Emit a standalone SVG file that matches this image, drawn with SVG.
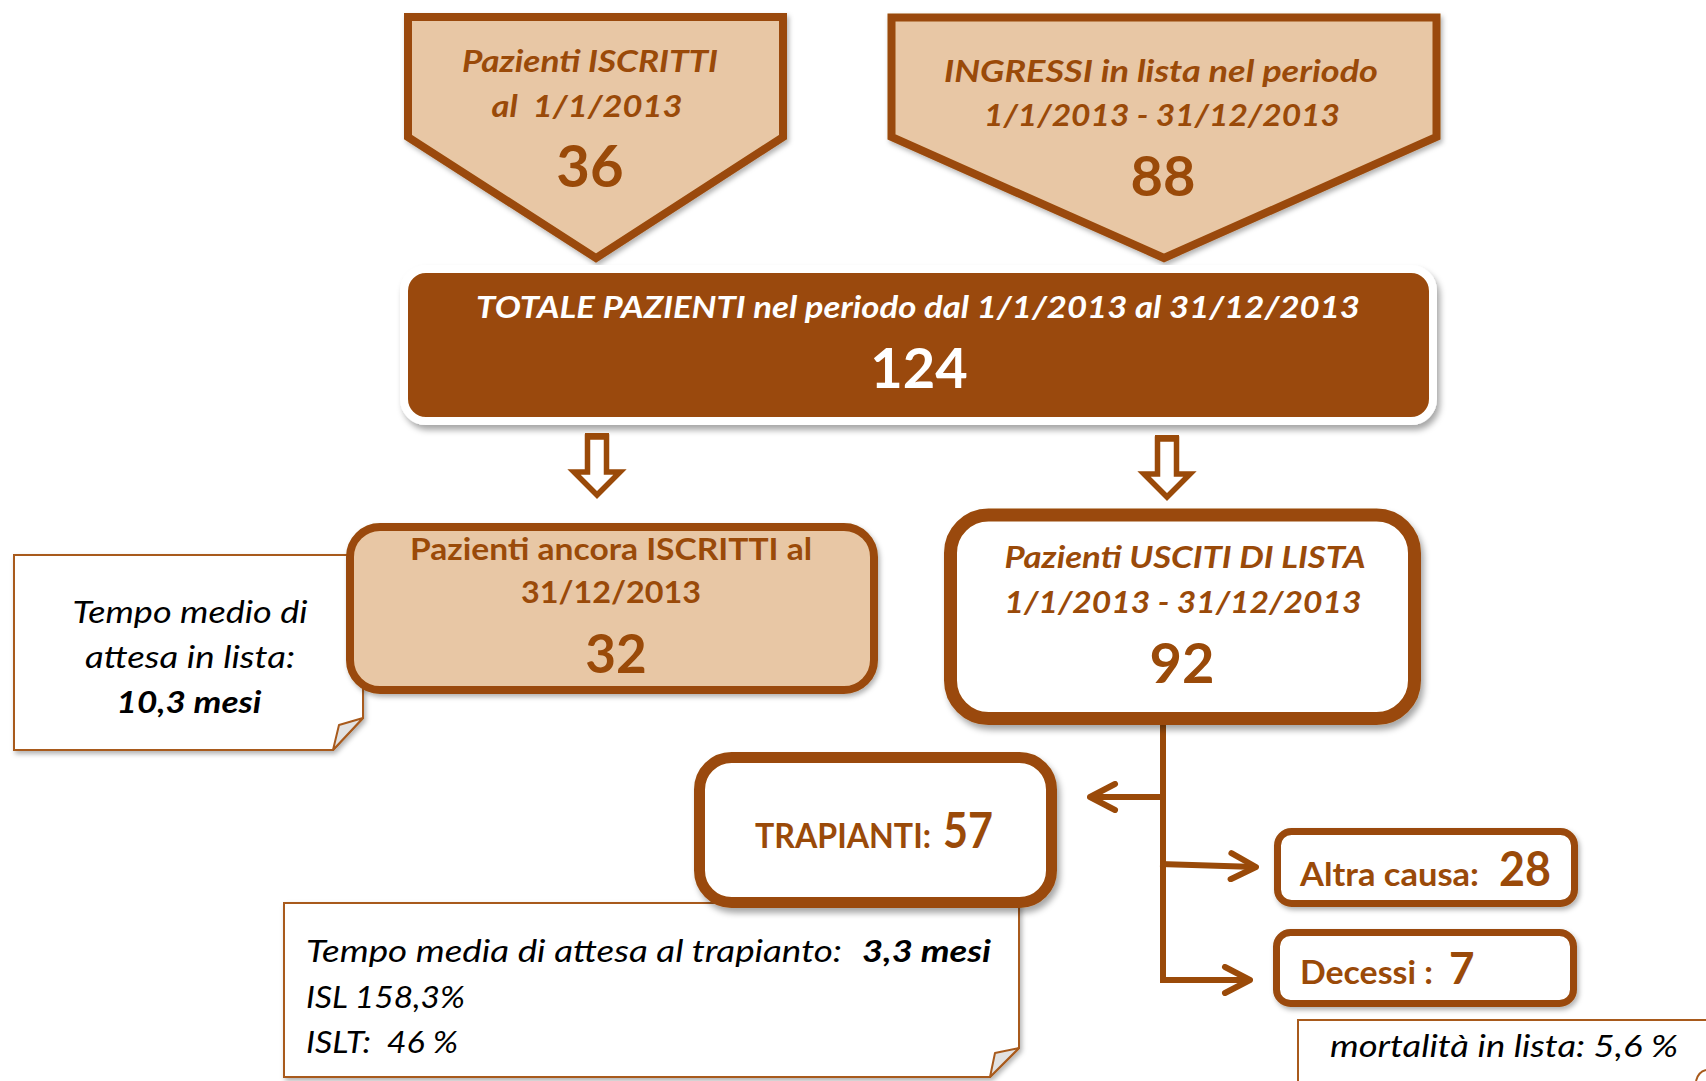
<svg xmlns="http://www.w3.org/2000/svg" width="1706" height="1081" viewBox="0 0 1706 1081">
<defs>
<filter id="sh" x="-10%" y="-10%" width="125%" height="135%"><feDropShadow dx="3" dy="5" stdDeviation="3" flood-color="#000" flood-opacity="0.35"/></filter>
<filter id="sh2" x="-10%" y="-10%" width="125%" height="135%"><feDropShadow dx="2" dy="3" stdDeviation="2.5" flood-color="#000" flood-opacity="0.3"/></filter>
<marker id="chev" viewBox="0 0 32 32" refX="29" refY="16" markerWidth="32" markerHeight="32" markerUnits="userSpaceOnUse" orient="auto"><path d="M4,3 L29,16 L4,29" fill="none" stroke="#9A4A09" stroke-width="6" stroke-linecap="round" stroke-linejoin="round"/></marker>
</defs>
<style>
text{font-family:Lato,"Open Sans","Liberation Sans",sans-serif;white-space:pre}
.b{fill:#9A4A09;font-weight:bold}
.bi{fill:#9A4A09;font-weight:bold;font-style:italic}
.w{fill:#fff;font-weight:bold}
.wi{fill:#fff;font-weight:bold;font-style:italic}
.k{fill:#000;font-style:italic}
.kb{fill:#000;font-style:italic;font-weight:bold}
.m{text-anchor:middle}
.tan{fill:#E8C7A5;stroke:#9A4A09;stroke-width:8;stroke-linejoin:miter}
.box{fill:#fff;stroke:#9A4A09}
.note{fill:#fff;stroke:#A85A1C;stroke-width:2}
.fold{fill:#e2e2e2;stroke:#A85A1C;stroke-width:2;stroke-linejoin:round}
.con{fill:none;stroke:#9A4A09;stroke-width:6}
.blk{fill:#fff;stroke:#9A4A09;stroke-width:5.5}
</style>
<rect width="1706" height="1081" fill="#fff"/>

<g id="iscritti">
<path class="tan" filter="url(#sh2)" d="M408,17 H783 V137 L596,258 L408,137 Z"/>
<text class="bi m" x="590" y="72" font-size="31" textLength="256" lengthAdjust="spacingAndGlyphs">Pazienti ISCRITTI</text>
<text class="bi m" x="587" y="117" font-size="31" textLength="191" lengthAdjust="spacingAndGlyphs">al  1/1/2013</text>
<text class="b m" x="590" y="187" font-size="58">36</text>
</g>

<g id="ingressi">
<path class="tan" filter="url(#sh2)" d="M891.5,17.5 H1436.5 V137 L1164,258 L891.5,137 Z"/>
<text class="bi m" x="1161" y="82" font-size="31" textLength="434" lengthAdjust="spacingAndGlyphs">INGRESSI in lista nel periodo</text>
<text class="bi m" x="1162" y="126" font-size="31" textLength="356" lengthAdjust="spacingAndGlyphs">1/1/2013 - 31/12/2013</text>
<text class="b m" x="1163" y="196" font-size="56">88</text>
</g>

<g id="totale">
<rect x="404" y="269" width="1029" height="152" rx="22" fill="#9A4A09" stroke="#fff" stroke-width="8" filter="url(#sh)"/>
<text class="wi m" x="918" y="318" font-size="30" textLength="884" lengthAdjust="spacingAndGlyphs">TOTALE PAZIENTI nel periodo dal 1/1/2013 al 31/12/2013</text>
<text class="w m" x="919" y="388" font-size="56">124</text>
</g>

<g id="connectors">
<rect x="585" y="433" width="24" height="11" fill="#9A4A09"/>
<path class="blk" d="M587.5,437 H606.5 V472 H620 L597,495 L574,472 H587.5 Z"/>
<rect x="1155" y="435" width="24" height="11" fill="#9A4A09"/>
<path class="blk" d="M1157.5,439 H1176.5 V474 H1190 L1167,497 L1144,474 H1157.5 Z"/>
<path class="con" d="M1163,725 V980"/>
<path class="con" d="M1166,797 H1090" marker-end="url(#chev)"/>
<path class="con" d="M1160,864 L1256,867" marker-end="url(#chev)"/>
<path class="con" d="M1160,980 H1250" marker-end="url(#chev)"/>
</g>

<g id="nota-attesa">
<path class="note" filter="url(#sh2)" d="M14,555 H363 V718 L333,750 H14 Z"/>
<path class="fold" d="M363,718 L339,725 L333,750 Z"/>
<text class="k m" x="190" y="623" font-size="31" textLength="235" lengthAdjust="spacingAndGlyphs">Tempo medio di</text>
<text class="k m" x="190" y="668" font-size="31" textLength="210" lengthAdjust="spacingAndGlyphs">attesa in lista:</text>
<text class="kb m" x="189" y="713" font-size="31" textLength="145" lengthAdjust="spacingAndGlyphs">10,3 mesi</text>
</g>

<g id="ancora-iscritti">
<rect class="tan" x="350" y="527" width="524" height="163" rx="30" filter="url(#sh2)"/>
<text class="b m" x="611" y="560" font-size="30" textLength="402" lengthAdjust="spacingAndGlyphs">Pazienti ancora ISCRITTI al</text>
<text class="b m" x="611" y="603" font-size="30" textLength="180" lengthAdjust="spacingAndGlyphs">31/12/2013</text>
<text class="b m" x="616" y="673" font-size="53">32</text>
</g>

<g id="usciti">
<rect class="box" x="950.5" y="515" width="464" height="203.5" rx="38" stroke-width="13" filter="url(#sh)"/>
<text class="bi m" x="1185" y="568" font-size="31" textLength="361" lengthAdjust="spacingAndGlyphs">Pazienti USCITI DI LISTA</text>
<text class="bi m" x="1183" y="613" font-size="31" textLength="357" lengthAdjust="spacingAndGlyphs">1/1/2013 - 31/12/2013</text>
<text class="b m" x="1182" y="683" font-size="56">92</text>
</g>

<g id="nota-trapianto">
<path class="note" filter="url(#sh2)" d="M284,903 H1019 V1048 L990,1077 H284 Z"/>
<path class="fold" d="M1019,1048 L995,1053 L990,1077 Z"/>
<text class="k" x="306" y="962" font-size="31" textLength="536" lengthAdjust="spacingAndGlyphs">Tempo media di attesa al trapianto:</text>
<text class="kb" x="862" y="962" font-size="31" textLength="129" lengthAdjust="spacingAndGlyphs">3,3 mesi</text>
<text class="k" x="306" y="1008" font-size="31" textLength="159" lengthAdjust="spacingAndGlyphs">ISL 158,3%</text>
<text class="k" x="306" y="1053" font-size="31" textLength="152" lengthAdjust="spacingAndGlyphs">ISLT:  46 %</text>
</g>

<g id="trapianti">
<rect class="box" x="699.5" y="757.5" width="352" height="145" rx="32" stroke-width="11" filter="url(#sh)"/>
<text class="b" x="755" y="848" font-size="34" textLength="176" lengthAdjust="spacingAndGlyphs">TRAPIANTI:</text>
<text class="b" x="943" y="848" font-size="49" textLength="50" lengthAdjust="spacingAndGlyphs">57</text>
</g>

<g id="altra-causa">
<rect class="box" x="1277.5" y="831.5" width="297" height="72" rx="14" stroke-width="7" filter="url(#sh2)"/>
<text class="b" x="1300" y="886" font-size="32" textLength="179" lengthAdjust="spacingAndGlyphs">Altra causa:</text>
<text class="b" x="1499" y="886" font-size="48" textLength="52" lengthAdjust="spacingAndGlyphs">28</text>
</g>

<g id="decessi">
<rect class="box" x="1276.5" y="932.5" width="297" height="71" rx="14" stroke-width="7" filter="url(#sh2)"/>
<text class="b" x="1300" y="984" font-size="32" textLength="133" lengthAdjust="spacingAndGlyphs">Decessi :</text>
<text class="b" x="1449" y="984" font-size="44">7</text>
</g>

<g id="nota-mortalita">
<rect class="note" x="1298" y="1020" width="420" height="80"/>
<path d="M1696,1081 Q1698,1072 1706,1070" fill="none" stroke="#A85A1C" stroke-width="2"/>
<text class="k" x="1330" y="1057" font-size="31" textLength="348" lengthAdjust="spacingAndGlyphs">mortalità in lista: 5,6 %</text>
</g>
</svg>
